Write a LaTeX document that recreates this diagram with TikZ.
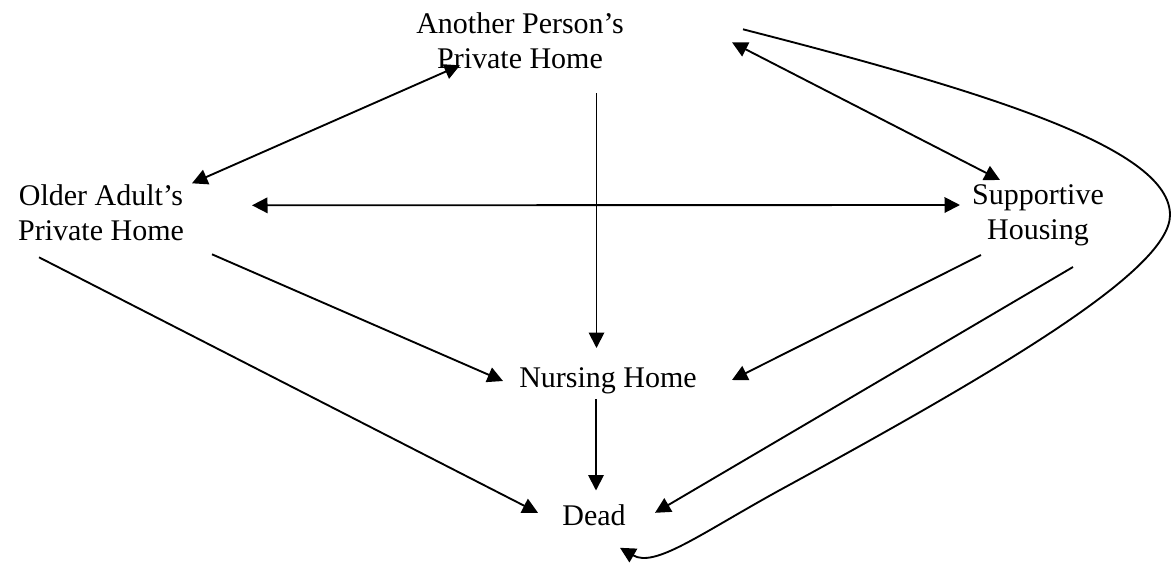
\documentclass[tikz,border=0pt]{standalone}
\usepackage{fontspec}
\setmainfont{Liberation Serif}
\usetikzlibrary{arrows.meta,calc}

\begin{document}
\begin{tikzpicture}[x=0.4pt,y=-0.4pt,line width=0.75pt,
                    place/.style={align=center,inner sep=0pt,font=\fontsize{12}{14}\selectfont},
                    link/.style={-{Triangle[length=6.2pt,width=6.2pt]}},
                    twoway/.style={{Triangle[length=6.2pt,width=6.2pt]}-{Triangle[length=6.2pt,width=6.2pt]}}]

  \useasboundingbox (0,0) rectangle (1176,562);

  \node[place] at (520,40.3)    (other)   {Another Person's\\Private Home};
  \node[place] at (101,212.3)   (own)     {Older Adult's\\Private Home};
  \node[place] at (1038,215.5)  (supp)    {Supportive\\Housing};
  \node[place] at (608,381)     (nursing) {Nursing Home};
  \node[place] at (594,514.8)   (dead)    {Dead};

  % moves both ways
  \draw[twoway] ($(own)+(91,-29)$) -- ($(other)+(-60,25)$);
  \draw[twoway] ($(other)+(212,2)$) -- ($(supp)+(-38,-35.5)$);
  \draw[twoway] ($(own)+(151,-7)$) -- ($(supp)+(-78,-10.5)$);

  % one way moves
  \draw[link] ($(other)+(76.5,52.7)$) -- ($(nursing)+(-11.5,-33)$);
  \draw[link] ($(own)+(111,42)$) -- ($(nursing)+(-105,0)$);
  \draw[link] ($(own)+(-62,45)$) -- ($(dead)+(-56,-2)$);
  \draw[link] ($(supp)+(-57,39.5)$) -- ($(nursing)+(124,-1)$);
  \draw[link] ($(supp)+(35,51.5)$) -- ($(dead)+(61,-2)$);
  \draw[link] ($(nursing)+(-12,18.3)$) -- ($(dead)+(2,-24.3)$);
  \draw[link] ($(other)+(223,-11)$) .. controls (1000,95) and (1170,150) .. (1170,215)
              .. controls (1170,270) and (1000,370) .. (780,490)
              .. controls (700,534) and (655,568) .. ($(dead)+(26,33)$);

\end{tikzpicture}
\end{document}
